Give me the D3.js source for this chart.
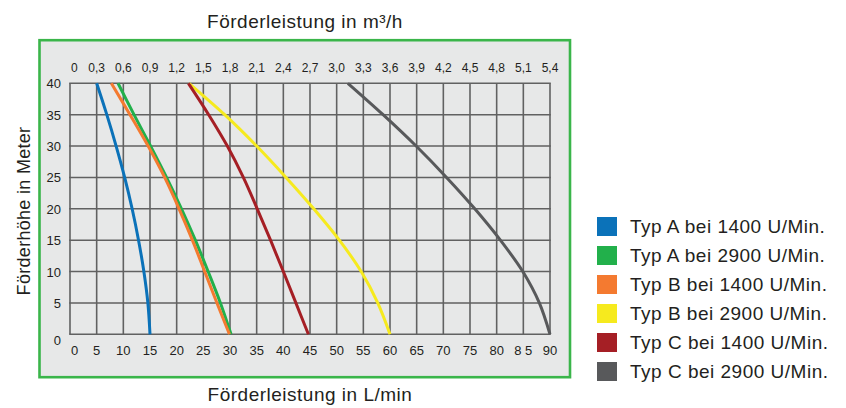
<!DOCTYPE html>
<html>
<head>
<meta charset="utf-8">
<script src="https://cdn.jsdelivr.net/npm/d3@7"></script>
<style>
  html, body { margin: 0; padding: 0; background: #ffffff; }
  svg { display: block; font-family: "Liberation Sans", Arial, Helvetica, sans-serif; }
</style>
</head>
<body>
<svg id="chart" width="846" height="408"></svg>
<script>
// ---- data ----
const headLevels = [40, 35, 30, 25, 20, 15, 10, 5, 0];          // Förderhöhe (m)
const typA1400 = [5.0, 6.9, 8.65, 10.25, 11.65, 12.85, 13.85, 14.6, 15.0];
const typA2900 = [9.0, 12.0, 15.1, 18.1, 20.9, 23.5, 25.9, 28.2, 30.2];
const typB1400 = [7.75, 11.25, 14.65, 17.75, 20.45, 22.95, 25.25, 27.55, 29.9];
const typB2900 = [22.3, 29.0, 35.0, 40.5, 45.7, 50.5, 54.6, 57.7, 60.0];
const typC1400 = [22.2, 26.0, 29.5, 32.5, 35.1, 37.6, 40.0, 42.35, 44.7];
const typC2900 = [52.1, 58.7, 64.9, 70.6, 75.9, 80.7, 84.9, 88.0, 90.0];

const seriesNames = ["Typ A bei 1400 U/Min.", "Typ A bei 2900 U/Min.", "Typ B bei 1400 U/Min.",
                     "Typ B bei 2900 U/Min.", "Typ C bei 1400 U/Min.", "Typ C bei 2900 U/Min."];
const seriesValues = [typA1400, typA2900, typB1400, typB2900, typC1400, typC2900];
const seriesColors = ["#0b72b9", "#22b04b", "#f47a30", "#f6ea1e", "#a51f25", "#58595b"];

const bottomTicks = [0, 5, 10, 15, 20, 25, 30, 35, 40, 45, 50, 55, 60, 65, 70, 75, 80, 85, 90];
const bottomTickLabels = ["0", "5", "10", "15", "20", "25", "30", "35", "40", "45", "50", "55", "60",
                          "65", "70", "75", "80", "8 5", "90"];
const topTicks = [0, 0.3, 0.6, 0.9, 1.2, 1.5, 1.8, 2.1, 2.4, 2.7, 3.0, 3.3, 3.6, 3.9, 4.2, 4.5, 4.8, 5.1, 5.4];
const topTickLabels = ["0", "0,3", "0,6", "0,9", "1,2", "1,5", "1,8", "2,1", "2,4", "2,7", "3,0",
                       "3,3", "3,6", "3,9", "4,2", "4,5", "4,8", "5,1", "5,4"];
const yTicks = [0, 5, 10, 15, 20, 25, 30, 35, 40];
const yTickLabels = ["0", "5", "10", "15", "20", "25", "30", "35", "40"];

const titleTop = "Förderleistung in m³/h";
const titleBottom = "Förderleistung in L/min";
const titleY = "Förderhöhe in Meter";

// ---- layout ----
(function draw() {
const svg = d3.select("#chart");
const textColor = "#231f20";
const pLeft = 70, pRight = 550, pTop = 83.3, pBottom = 334.3;

const x = d3.scaleLinear().domain([0, 90]).range([pLeft, pRight]);
const xTop = d3.scaleLinear().domain([0, 5.4]).range([pLeft, pRight]);
const y = d3.scaleLinear().domain([0, 40]).range([pBottom, pTop]);

// panel
svg.append("rect")
  .attr("x", 39.5).attr("y", 40.2).attr("width", 530.5).attr("height", 337)
  .attr("fill", "#e7e8e8").attr("stroke", "#3ab54a").attr("stroke-width", 2.6);

// grid
const grid = svg.append("g").attr("stroke", "#616161").attr("stroke-width", 1.6);
grid.selectAll("line.v").data(bottomTicks).join("line")
  .attr("class", "v")
  .attr("x1", d => x(d)).attr("x2", d => x(d))
  .attr("y1", pTop).attr("y2", pBottom);
grid.selectAll("line.h").data(yTicks).join("line")
  .attr("class", "h")
  .attr("x1", pLeft - 0.8).attr("x2", pRight + 0.8)
  .attr("y1", d => y(d)).attr("y2", d => y(d));

// bottom tick labels
svg.append("g").selectAll("text").data(bottomTicks).join("text")
  .attr("x", (d, i) => i === 0 ? x(d) + 1 : x(d))
  .attr("y", 355)
  .attr("text-anchor", (d, i) => i === 0 ? "start" : "middle")
  .attr("font-size", 13).attr("fill", textColor)
  .text((d, i) => bottomTickLabels[i]);

// top tick labels
svg.append("g").selectAll("text").data(topTicks).join("text")
  .attr("x", (d, i) => i === 0 ? xTop(d) + 1 : xTop(d))
  .attr("y", 72)
  .attr("text-anchor", (d, i) => i === 0 ? "start" : "middle")
  .attr("font-size", 12).attr("fill", textColor)
  .text((d, i) => topTickLabels[i]);

// y tick labels
svg.append("g").selectAll("text").data(yTicks).join("text")
  .attr("x", 61)
  .attr("y", d => y(d) + (d === 0 ? 11 : 5))
  .attr("text-anchor", "end")
  .attr("font-size", 13).attr("fill", textColor)
  .text((d, i) => yTickLabels[i]);

// titles
svg.append("text").attr("x", 305).attr("y", 28).attr("text-anchor", "middle")
  .attr("font-size", 19).attr("letter-spacing", 0.5).attr("fill", textColor).text(titleTop);
svg.append("text").attr("x", 310).attr("y", 401).attr("text-anchor", "middle")
  .attr("font-size", 19).attr("letter-spacing", 0.5).attr("fill", textColor).text(titleBottom);
svg.append("text").attr("transform", "translate(30,211) rotate(-90)").attr("text-anchor", "middle")
  .attr("font-size", 18).attr("letter-spacing", 0.3).attr("fill", textColor).text(titleY);

// curves
const line = d3.line()
  .x(d => x(d[0]))
  .y(d => y(d[1]))
  .curve(d3.curveCatmullRom.alpha(0.5));

const curves = svg.append("g").attr("fill", "none").attr("stroke-width", 3).attr("stroke-linecap", "butt");
seriesValues.forEach((vals, i) => {
  const pts = vals.map((v, j) => [v, headLevels[j]]);
  curves.append("path")
    .attr("d", line(pts))
    .attr("stroke", seriesColors[i]);
});

// legend
const legend = svg.append("g");
const rows = legend.selectAll("g").data(seriesNames).join("g")
  .attr("transform", (d, i) => `translate(597,${217 + i * 29})`);
rows.append("rect").attr("width", 20).attr("height", 19)
  .attr("fill", (d, i) => seriesColors[i]);
rows.append("text").attr("x", 33).attr("y", 16)
  .attr("font-size", 19).attr("letter-spacing", 0.5).attr("fill", textColor)
  .text(d => d);
})();
</script>
</body>
</html>
